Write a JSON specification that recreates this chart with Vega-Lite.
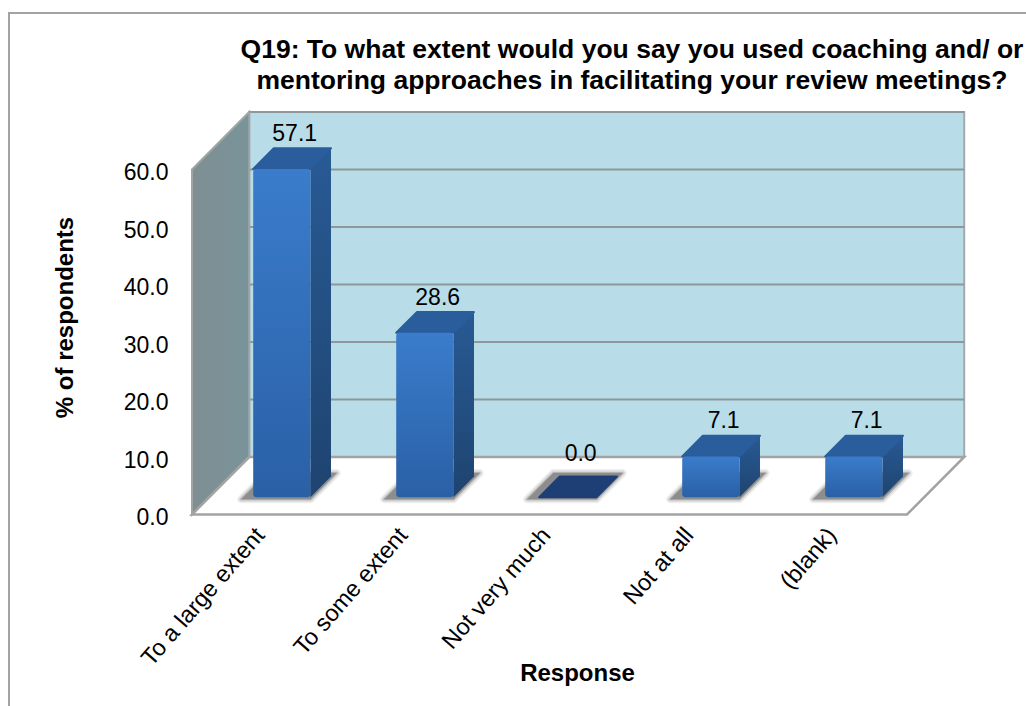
{
  "$schema": "https://vega.github.io/schema/vega-lite/v6.json",
  "width": 1040,
  "height": 710,
  "autosize": "none",
  "padding": {"left": 9, "top": 13, "right": 0, "bottom": 0},
  "background": "white",
  "view": {"stroke": "#a3a3a3", "strokeWidth": 2, "fill": "white"},
  "title": {
    "text": ["Q19: To what extent would you say you used coaching and/ or", "mentoring approaches in facilitating your review meetings?"],
    "anchor": "middle",
    "frame": "group",
    "align": "center",
    "dx": 103,
    "dy": 85,
    "font": "Liberation Sans",
    "fontSize": 26.5,
    "fontWeight": "bold",
    "lineHeight": 31,
    "color": "black"
  },
  "config": {
    "font": "Liberation Sans",
    "axis": {"grid": false, "ticks": false, "domain": false}
  },
  "layer": [
    {
      "description": "Back wall of the chart box",
      "data": {"values": [{}]},
      "mark": {"type": "rect", "fill": "#b8dde8", "stroke": "#a3a9ab", "strokeWidth": 2},
      "encoding": {
        "x": {
          "datum": 0.4, "type": "quantitative",
          "scale": {"domain": [0, 5.4], "range": [183, 955.2], "nice": false, "zero": false},
          "axis": {
            "orient": "bottom", "offset": -209, "title": "Response",
            "values": [0.475, 1.475, 2.475, 3.475, 4.475],
            "labelExpr": "['To a large extent','To some extent','Not very much','Not at all','(blank)'][floor(datum.value)]",
            "labelAngle": -49, "labelAlign": "right", "labelBaseline": "middle",
            "labelFontSize": 23.5, "labelColor": "black", "labelPadding": 17, "labelOverlap": false,
            "titleFontSize": 24, "titleFontWeight": "bold", "titleColor": "black",
            "titleX": 568, "titleY": 147
          }
        },
        "x2": {"datum": 5.4},
        "y": {
          "datum": 10, "type": "quantitative",
          "scale": {"domain": [0, 70], "range": [501.5, 99], "nice": false, "zero": false},
          "axis": {
            "orient": "left", "offset": -183, "title": "% of respondents",
            "values": [0, 10, 20, 30, 40, 50, 60], "format": ".1f",
            "labelFontSize": 23, "labelColor": "black", "labelPadding": 24, "labelOffset": 3,
            "titleFontSize": 24, "titleFontWeight": "bold", "titleColor": "black",
            "titleX": -115, "titleY": 304
          }
        },
        "y2": {"datum": 70}
      }
    },
    {
      "description": "Gridlines on the back wall, lifted by the box depth",
      "data": {"values": [{"tick": 10}, {"tick": 20}, {"tick": 30}, {"tick": 40}, {"tick": 50}, {"tick": 60}]},
      "transform": [{"calculate": "datum.tick + 10", "as": "wallY"}],
      "mark": {"type": "rule", "stroke": "#8e9799", "strokeWidth": 2},
      "encoding": {
        "x": {"datum": 0.4, "type": "quantitative"},
        "x2": {"datum": 5.4},
        "y": {"field": "wallY", "type": "quantitative"}
      }
    },
    {
      "description": "Left wall and floor, swept along the depth axis",
      "data": {"values": [{"z": 0}, {"z": 1}]},
      "transform": [
        {"calculate": "datum.z * 0.4", "as": "sx"},
        {"calculate": "datum.sx + 5", "as": "sx2"},
        {"calculate": "datum.z * 10", "as": "sy"},
        {"calculate": "datum.sy + 60", "as": "sy2"}
      ],
      "layer": [
        {
          "mark": {
            "type": "area", "orient": "vertical", "stroke": "#a0a4a5", "strokeWidth": 2,
            "fill": {
              "gradient": "linear", "x1": 0, "y1": 0, "x2": 1, "y2": 0,
              "stops": [{"offset": 0, "color": "#7f8f92"}, {"offset": 1, "color": "#78949a"}]
            }
          },
          "encoding": {
            "x": {"field": "sx", "type": "quantitative"},
            "y": {"field": "sy2", "type": "quantitative", "stack": null},
            "y2": {"field": "sy"}
          }
        },
        {
          "mark": {"type": "area", "orient": "horizontal", "fill": "white", "stroke": "#a3a3a3", "strokeWidth": 2.5},
          "encoding": {
            "y": {"field": "sy", "type": "quantitative"},
            "x": {"field": "sx", "type": "quantitative", "stack": null},
            "x2": {"field": "sx2"}
          }
        }
      ]
    },
    {
      "description": "Bars: each row is swept from the near to the far face",
      "data": {
        "values": [
          {"response": "To a large extent", "order": 0, "value": 57.1},
          {"response": "To some extent", "order": 1, "value": 28.6},
          {"response": "Not very much", "order": 2, "value": 0.0},
          {"response": "Not at all", "order": 3, "value": 7.1},
          {"response": "(blank)", "order": 4, "value": 7.1}
        ]
      },
      "transform": [
        {"calculate": "[0, 1]", "as": "t"},
        {"flatten": ["t"]},
        {"calculate": "0.3 + datum.t * 0.36", "as": "z"},
        {"calculate": "datum.order + 0.308 + 0.4 * datum.z", "as": "xl"},
        {"calculate": "datum.xl + 0.4", "as": "xr"},
        {"calculate": "datum.value + 10 * datum.z", "as": "yt"},
        {"calculate": "10 * datum.z", "as": "yb"},
        {"calculate": "0.265 + datum.t * 0.455", "as": "zs"},
        {"calculate": "datum.order + 0.308 + 0.4 * datum.zs - 0.07", "as": "sl"},
        {"calculate": "datum.sl + 0.485", "as": "sr"},
        {"calculate": "10 * datum.zs", "as": "sb"},
        {"calculate": "(datum.xl + datum.xr) / 2 + 0.09", "as": "labelX"},
        {"calculate": "datum.yt + (datum.value === 0 ? 6.3 : 4.9)", "as": "labelY"}
      ],
      "layer": [
        {
          "mark": {"type": "area", "orient": "horizontal", "fill": "#808080", "stroke": "#808080", "strokeWidth": 8, "strokeJoin": "round", "opacity": 0.12},
          "encoding": {
            "y": {"field": "sb", "type": "quantitative"},
            "x": {"field": "sl", "type": "quantitative", "stack": null},
            "x2": {"field": "sr"},
            "detail": {"field": "response"}
          }
        },
        {
          "mark": {"type": "area", "orient": "horizontal", "fill": "#808080", "stroke": "#808080", "strokeWidth": 5, "strokeJoin": "round", "opacity": 0.2},
          "encoding": {
            "y": {"field": "sb", "type": "quantitative"},
            "x": {"field": "sl", "type": "quantitative", "stack": null},
            "x2": {"field": "sr"},
            "detail": {"field": "response"}
          }
        },
        {
          "mark": {"type": "area", "orient": "horizontal", "fill": "#707070", "stroke": "#707070", "strokeWidth": 2, "strokeJoin": "round", "opacity": 0.35},
          "encoding": {
            "y": {"field": "sb", "type": "quantitative"},
            "x": {"field": "sl", "type": "quantitative", "stack": null},
            "x2": {"field": "sr"},
            "detail": {"field": "response"}
          }
        },
        {
          "mark": {"type": "area", "orient": "horizontal", "fill": "#606060", "opacity": 0.45},
          "encoding": {
            "y": {"field": "sb", "type": "quantitative"},
            "x": {"field": "sl", "type": "quantitative", "stack": null},
            "x2": {"field": "sr"},
            "detail": {"field": "response"}
          }
        },
        {
          "mark": {
            "type": "area", "orient": "vertical",
            "fill": {
              "gradient": "linear", "x1": 0, "y1": 0, "x2": 0, "y2": 1,
              "stops": [{"offset": 0, "color": "#285a94"}, {"offset": 1, "color": "#1e4470"}]
            }
          },
          "encoding": {
            "x": {"field": "xr", "type": "quantitative"},
            "y": {"field": "yt", "type": "quantitative", "stack": null},
            "y2": {"field": "yb"},
            "detail": {"field": "response"}
          }
        },
        {
          "mark": {"type": "area", "orient": "horizontal", "strokeWidth": 2, "strokeJoin": "round"},
          "encoding": {
            "y": {"field": "yt", "type": "quantitative"},
            "x": {"field": "xl", "type": "quantitative", "stack": null},
            "x2": {"field": "xr"},
            "detail": {"field": "response"},
            "fill": {"condition": {"test": "datum.value === 0", "value": "#1d3f75"}, "value": "#2a5d9c"},
            "stroke": {"condition": {"test": "datum.value === 0", "value": "#1d3f75"}, "value": "#2a5d9c"}
          }
        },
        {
          "transform": [{"filter": "datum.t === 0 && datum.value > 0"}],
          "mark": {
            "type": "rect", "cornerRadius": 3,
            "fill": {
              "gradient": "linear", "x1": 0, "y1": 0, "x2": 0, "y2": 1,
              "stops": [{"offset": 0, "color": "#3a7ccb"}, {"offset": 1, "color": "#2a60a6"}]
            }
          },
          "encoding": {
            "x": {"field": "xl", "type": "quantitative"},
            "x2": {"field": "xr"},
            "y": {"field": "yt", "type": "quantitative"},
            "y2": {"field": "yb"}
          }
        },
        {
          "transform": [{"filter": "datum.t === 0"}],
          "mark": {"type": "text", "fontSize": 23, "color": "black", "align": "center", "baseline": "alphabetic"},
          "encoding": {
            "x": {"field": "labelX", "type": "quantitative"},
            "y": {"field": "labelY", "type": "quantitative"},
            "text": {"field": "value", "type": "quantitative", "format": ".1f"}
          }
        }
      ]
    }
  ]
}
